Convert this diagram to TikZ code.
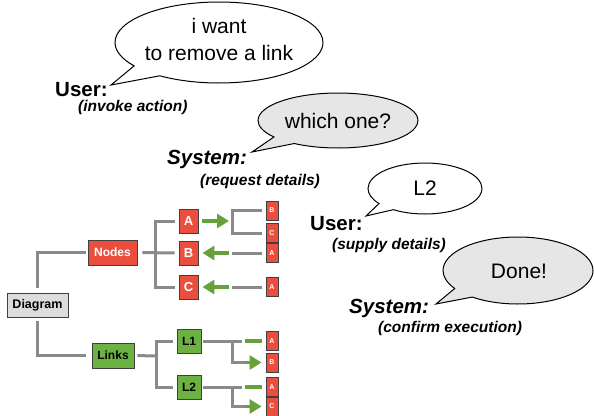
\documentclass[tikz,border=0pt]{standalone}
\usepackage{fontspec}
\setmainfont{Liberation Sans}
\usetikzlibrary{shapes.callouts,arrows.meta}
\definecolor{nred}{RGB}{236,78,62}
\definecolor{ngreen}{RGB}{108,178,66}
\definecolor{agreen}{RGB}{104,160,58}
\definecolor{lgray}{RGB}{138,138,138}
\definecolor{dgfill}{RGB}{221,221,221}
\definecolor{bfill}{RGB}{230,230,230}
\begin{document}
\begin{tikzpicture}[x=1pt,y=-1pt,
  box/.style={draw=black!75,line width=0.9pt,inner sep=0pt,font=\bfseries\fontsize{12}{14}\selectfont},
  rbox/.style={box,fill=nred,text=white},
  gbox/.style={box,fill=ngreen,text=black},
  sbox/.style={box,fill=nred,text=white,minimum width=12pt,minimum height=19pt,font=\bfseries\fontsize{7}{8}\selectfont},
  conn/.style={draw=lgray,line width=3pt},
  garrow/.style={draw=agreen,line width=3.5pt,-{Triangle[length=12pt,width=14pt]}},
  gseg/.style={draw=agreen,line width=3.5pt},
  bubble/.style={ellipse callout,draw=black,line width=1pt,inner sep=0pt,callout pointer arc=20},
  btext/.style={inner sep=0pt,font=\fontsize{21}{27}\selectfont,align=center},
  who/.style={inner sep=0pt,anchor=base west,font=\bfseries\fontsize{20.5}{24}\selectfont},
  what/.style={inner sep=0pt,anchor=base west,font=\bfseries\itshape\fontsize{15.5}{18}\selectfont},
]
\useasboundingbox (0,0) rectangle (594,415);

% ---------- speech bubbles ----------
\node[bubble,minimum width=208pt,minimum height=81pt,callout absolute pointer={(111,85)}] (b1) at (219,42.5) {};
\node[btext] (t1) at (219,39) {i want\\to remove a link};
\node[bubble,fill=bfill,minimum width=160pt,minimum height=55pt,callout absolute pointer={(252,152)}] (b2) at (338,120.5) {};
\node[btext] (t2) at (338,121) {which one?};
\node[bubble,minimum width=114pt,minimum height=51pt,callout absolute pointer={(366,216)}] (b3) at (425,188.5) {};
\node[btext] (t3) at (425,188) {L2};
\node[bubble,fill=bfill,minimum width=150pt,minimum height=67pt,callout absolute pointer={(436,304)}] (b4) at (518,270.5) {};
\node[btext] (t4) at (519,271) {Done!};

\node[who] (u1) at (55,96) {User:};
\node[what] (w1) at (78,111.5) {(invoke action)};
\node[who,font=\bfseries\itshape\fontsize{20.5}{24}\selectfont] (s1) at (167,164) {System:};
\node[what] (w2) at (200,185) {(request details)};
\node[who] (u2) at (310,230) {User:};
\node[what] (w3) at (332,249) {(supply details)};
\node[who,font=\bfseries\itshape\fontsize{20.5}{24}\selectfont] (s2) at (349,313) {System:};
\node[what] (w4) at (378,332) {(confirm execution)};

% ---------- tree ----------
\node[box,fill=dgfill,minimum width=61pt,minimum height=24pt,font=\bfseries\fontsize{12.5}{14}\selectfont] (diagram) at (37.5,305) {Diagram};
\node[rbox,minimum width=49pt,minimum height=25pt] (nodes) at (112.5,252.5) {Nodes};
\node[gbox,minimum width=42pt,minimum height=25pt] (links) at (113,355.5) {Links};

\node[rbox,minimum width=19pt,minimum height=24pt,font=\bfseries\fontsize{13}{14}\selectfont] (a) at (188.5,221) {A};
\node[rbox,minimum width=19pt,minimum height=24pt,font=\bfseries\fontsize{13}{14}\selectfont] (b) at (188.5,253) {B};
\node[rbox,minimum width=19pt,minimum height=24pt,font=\bfseries\fontsize{13}{14}\selectfont] (c) at (188.5,287) {C};
\node[gbox,minimum width=24pt,minimum height=24pt] (l1) at (189,341) {L1};
\node[gbox,minimum width=24pt,minimum height=24pt] (l2) at (189,387) {L2};

\node[sbox] (sb1) at (272,210.5) {B};
\node[sbox] (sc1) at (272,233) {C};
\node[sbox] (sa1) at (272,253) {A};
\node[sbox] (sa2) at (272,287) {A};
\node[sbox] (la1) at (272,341) {A};
\node[sbox] (lb1) at (272,362.5) {B};
\node[sbox] (la2) at (272,387) {A};
\node[sbox] (lc2) at (272,406.5) {C};

% Diagram branches
\draw[conn,shorten <=5pt,shorten >=2pt] (diagram.north) |- (nodes.west);
\draw[conn,shorten <=4pt,shorten >=6pt] (diagram.south) |- (links.west);

% Nodes branch
\coordinate (nbus) at (155,253);
\draw[conn,shorten <=4pt,shorten >=4pt] (a.west) -| (nbus) |- (c.west);
\draw[conn,shorten <=5pt,shorten >=4pt] (nodes.east) -- (b.west);

\coordinate (aend) at (229,221);
\draw[garrow,shorten <=4pt] (a.east) -- (aend);
\coordinate (abr) at (232,221);
\draw[conn,shorten <=4pt,shorten >=4pt] (sb1.west) -| (abr) |- (sc1.west);

\coordinate (bgs) at (232,253);
\coordinate (bge) at (229,253);
\draw[conn,shorten <=4pt] (sa1.west) -- (bgs);
\draw[garrow,shorten >=4pt] (bge) -- (b.east);

\coordinate (cgs) at (232,287);
\coordinate (cge) at (229,287);
\draw[conn,shorten <=4pt] (sa2.west) -- (cgs);
\draw[garrow,shorten >=4pt] (cge) -- (c.east);

% Links branch
\coordinate (lbus) at (156,356);
\draw[conn,shorten <=4pt,shorten >=4pt] (l1.west) -| (lbus) |- (l2.west);
\draw[conn,shorten <=3pt] (links.east) -- (lbus);

\coordinate (l1g) at (242,341);
\coordinate (l1j) at (232,341);
\coordinate (l1k) at (245,362.5);
\coordinate (l1s) at (245,341);
\draw[conn,shorten <=2pt] (l1.east) -- (l1g);
\draw[conn] (l1j) |- (l1k);
\draw[gseg,shorten >=4pt] (l1s) -- (la1.west);
\draw[garrow,shorten >=4pt] (l1k) -- (lb1.west);

\coordinate (l2g) at (242,387);
\coordinate (l2j) at (232,387);
\coordinate (l2k) at (245,406.5);
\coordinate (l2s) at (245,387);
\draw[conn,shorten <=2pt] (l2.east) -- (l2g);
\draw[conn] (l2j) |- (l2k);
\draw[gseg,shorten >=4pt] (l2s) -- (la2.west);
\draw[garrow,shorten >=4pt] (l2k) -- (lc2.west);
\end{tikzpicture}
\end{document}
